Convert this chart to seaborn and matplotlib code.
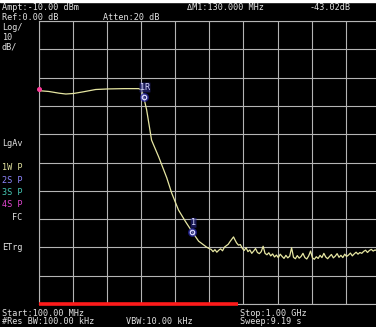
import matplotlib
matplotlib.use("Agg")
import matplotlib.pyplot as plt
import seaborn as sns
import pandas as pd

# Swept spectrum trace: frequency (MHz) and level (dB)
passband_freq = [100, 127, 154, 172, 193, 219, 251, 285, 325, 364, 372]
passband_level = [-24.6, -24.9, -25.5, -25.8, -25.6, -25.0, -24.2, -24.0, -23.9, -23.9, -24.4]

rolloff_freq = [377, 385, 398, 417, 438, 451, 469, 488, 505, 522, 543, 551]
rolloff_level = [-26.7, -31.4, -42.1, -48.1, -55.4, -60.8, -66.8, -71.0, -74.5, -77.8, -79.9, -80.5]

floor_freq = [555, 560, 565, 570, 575, 580, 585, 590, 595, 600, 605, 610, 614, 618,
              622, 627, 632, 637, 642, 647, 652, 657, 662, 667, 672, 677, 682, 687,
              692, 697, 702, 707, 712, 717, 722, 727, 732, 737, 742, 747, 752, 757,
              762, 767, 772, 777, 782, 787, 792, 797, 802, 807, 812, 817, 822, 827,
              832, 837, 842, 847, 852, 857, 862, 867, 872, 877, 882, 887, 892, 897,
              902, 907, 912, 917, 922, 927, 932, 937, 942, 947, 952, 957, 962, 967,
              972, 977, 982, 987, 992, 1000]
floor_level = [-80.7, -81.5, -80.8, -81.7, -81.0, -80.5, -81.2, -79.9, -79.4, -78.9,
               -77.9, -77.0, -76.3, -77.4, -78.4, -79.2, -79.0, -80.3, -81.1, -80.1,
               -81.5, -80.9, -82.1, -81.3, -80.4, -81.8, -82.2, -81.5, -79.6, -82.1,
               -82.6, -81.9, -83.0, -82.3, -83.4, -82.7, -83.6, -82.4, -83.2, -83.9,
               -82.8, -83.7, -83.1, -80.1, -83.5, -84.0, -82.9, -83.8, -83.2, -82.1,
               -83.6, -84.1, -83.0, -81.3, -83.7, -84.2, -83.3, -83.9, -82.8, -83.6,
               -82.1, -83.4, -84.0, -83.2, -82.5, -83.7, -83.1, -82.2, -83.5, -82.8,
               -83.6, -82.4, -83.2, -82.7, -82.0, -83.0, -82.3, -81.7, -82.4, -81.8,
               -82.1, -81.4, -81.0, -81.8, -81.1, -80.7, -81.3, -80.9, -81.2, -81.5]

# Markers: reference marker and delta marker (130 MHz apart)
marker_labels = ["1R", "1"]
marker_freq = [377, 505]
marker_level = [-26.7, -74.5]

# Left-edge reference marker level (dB)
ref_marker_level = -24.1

# Annotation texts
header_left = ["Ampt:-10.00 dBm", "Ref:0.00 dB"]
header_atten = "Atten:20 dB"
delta_text = "\u0394M1:130.000 MHz"
delta_value = "-43.02dB"
scale_text = ["Log/", "10", "dB/"]
trace_labels = ["1W", "2S", "3S", "4S"]
trace_label_colors = ["#e4e4a0", "#8f86ff", "#46c8b4", "#e046d0"]
footer = ["Start:100.00 MHz", "#Res BW:100.00 kHz", "VBW:10.00 kHz", "Stop:1.00 GHz", "Sweep:9.19 s"]

start_mhz, stop_mhz = 100, 1000
ref_db, bottom_db = 0, -100

trace = pd.DataFrame({
    "freq": passband_freq + rolloff_freq + floor_freq,
    "level": passband_level + rolloff_level + floor_level,
})

W, H = 376, 327
sns.set_style("dark", {"axes.facecolor": "black", "figure.facecolor": "black"})
fig = plt.figure(figsize=(W / 100, H / 100), dpi=100)
fig.patch.set_facecolor("black")

def px(x, y):
    return x / W, 1 - y / H

gl, gr, gt, gb = 38.5, 380.0, 21.0, 304.0
ax = fig.add_axes([gl / W, 1 - gb / H, (gr - gl) / W, (gb - gt) / H])
ax.set_facecolor("black")

sns.lineplot(data=trace, x="freq", y="level", ax=ax, color="#e6e6a2",
             linewidth=0.9, estimator=None, sort=False)

ax.set_xlim(start_mhz, stop_mhz)
ax.set_ylim(bottom_db, ref_db)
ax.set_xticks([start_mhz + i * (stop_mhz - start_mhz) / 10 for i in range(11)])
ax.set_yticks([bottom_db + i * 10 for i in range(11)])
ax.grid(True, color="#b4b4b4", linewidth=0.8)
ax.tick_params(length=0, labelbottom=False, labelleft=False)
ax.set_xlabel("")
ax.set_ylabel("")
for s in ax.spines.values():
    s.set_color("#b4b4b4")
    s.set_linewidth(0.8)
    s.set_visible(True)

# sweep progress bar along the bottom edge
ax.plot([0, 0.583], [0, 0], transform=ax.transAxes, color="#ff1a1a",
        linewidth=2.6, clip_on=False, solid_capstyle="butt", zorder=5)

# reference level marker at the left edge
ax.plot([0], [ref_marker_level], transform=ax.get_yaxis_transform(), marker="o",
        markersize=2.6, color="#ff3a9a", clip_on=False, linestyle="none", zorder=5)

# trace markers
for lab, f, lv in zip(marker_labels, marker_freq, marker_level):
    ax.plot([f], [lv], marker="o", markersize=5.5, color="#2a2ab0", alpha=0.6,
            linestyle="none")
    ax.plot([f], [lv], marker="o", markersize=3.2, markerfacecolor="none",
            markeredgecolor="#d8d8ff", markeredgewidth=0.9, linestyle="none")
    ax.annotate(lab, (f, lv), xytext=(1.0, 6.5), textcoords="offset points",
                ha="center", va="center", color="#d8d8ff", fontsize=6.0,
                family="DejaVu Sans Mono",
                bbox=dict(boxstyle="round,pad=0.05", fc="#2a2a90", ec="none", alpha=0.6))

mono = dict(family="DejaVu Sans Mono", fontsize=6.1, color="#e2e2e2", va="center")

fig.text(*px(2, 8), header_left[0], **mono)
fig.text(*px(2, 17), header_left[1], **mono)
fig.text(*px(103, 17), header_atten, **mono)
fig.text(*px(187, 8), delta_text, **mono)
fig.text(*px(310, 8), delta_value, **mono)

for i, t in enumerate(scale_text):
    fig.text(*px(2, 27 + 10 * i), t, **mono)

fig.text(*px(2, 143), "LgAv", **mono)
for i, (t, c) in enumerate(zip(trace_labels, trace_label_colors)):
    fig.text(*px(2, 168 + 12.3 * i), t + " P", **{**mono, "color": c})
fig.text(*px(12, 217), "FC", **mono)
fig.text(*px(2, 248), "ETrg", **mono)

fig.text(*px(2, 313), footer[0], **mono)
fig.text(*px(2, 322), footer[1], **mono)
fig.text(*px(126, 322), footer[2], **mono)
fig.text(*px(240, 314), footer[3], **mono)
fig.text(*px(240, 322), footer[4], **mono)

# white margin strip at the top of the capture
fig.patches.append(plt.Rectangle((0, 1 - 2 / H), 1, 2 / H, transform=fig.transFigure,
                                 color="white", zorder=10))

fig.savefig("out.png", dpi=100, facecolor="black")
